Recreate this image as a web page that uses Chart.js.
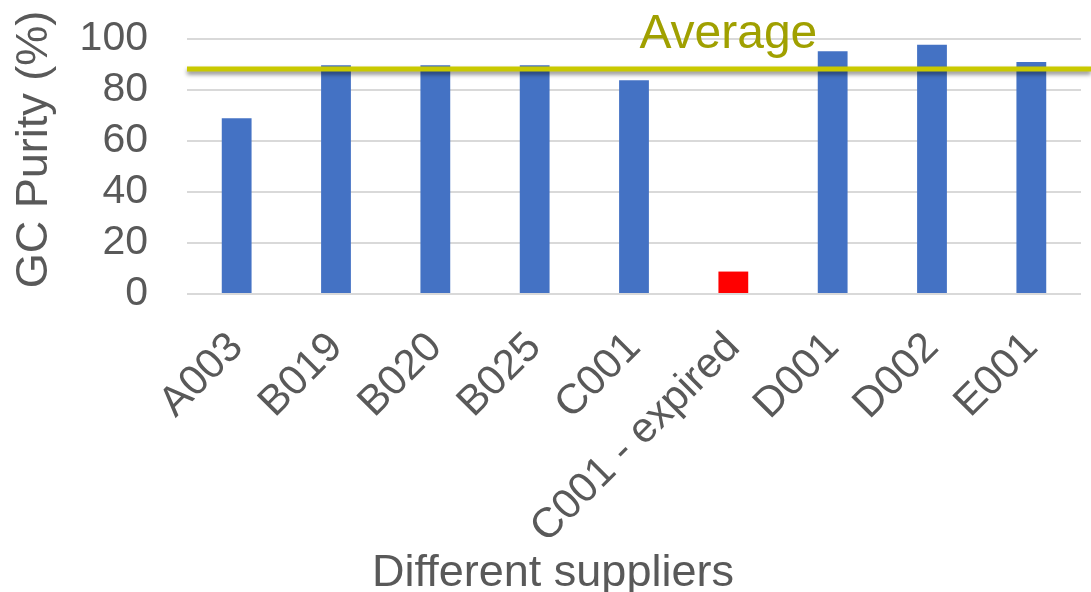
<!DOCTYPE html>
<html>
<head>
<meta charset="utf-8">
<title>GC Purity by supplier</title>
<script src="https://cdn.jsdelivr.net/npm/chart.js@4/dist/chart.umd.min.js"></script>
<style>
  html, body { margin: 0; padding: 0; background: #ffffff; }
  #wrap { width: 1091px; height: 592px; }
</style>
</head>
<body>
<div id="wrap"><canvas id="chart" width="1091" height="592"></canvas></div>
<script>
// Supplier samples and their measured GC purity (%)
const suppliers = ['A003', 'B019', 'B020', 'B025', 'C001', 'C001 - expired', 'D001', 'D002', 'E001'];
const purity = [68.9, 89.7, 89.7, 89.7, 83.8, 8.8, 95.2, 97.7, 91.0];
const yTicks = [0, 20, 40, 60, 80, 100];

// Average over the in-date samples (the expired lot is left out)
const inDate = purity.filter((v, i) => !suppliers[i].includes('expired'));
const averagePurity = inDate.reduce((a, b) => a + b, 0) / inDate.length;

const FONT = "'Liberation Sans', Arial, sans-serif";
const TEXT = '#595959';

// Average line (with a soft drop shadow) and its label, plus the value-axis title
const averageLine = {
  id: 'averageLine',
  afterDatasetsDraw(chart) {
    const { ctx, chartArea, scales } = chart;
    const y = scales.y.getPixelForValue(averagePurity);
    ctx.save();
    ctx.shadowColor = 'rgba(0,0,0,0.45)';
    ctx.shadowBlur = 4;
    ctx.shadowOffsetY = 3;
    ctx.strokeStyle = '#C9C900';
    ctx.lineWidth = 5;
    ctx.beginPath();
    ctx.moveTo(chartArea.left, y);
    ctx.lineTo(chart.width, y);
    ctx.stroke();
    ctx.restore();

    ctx.save();
    ctx.font = '48px ' + FONT;
    ctx.fillStyle = '#A0A000';
    ctx.textAlign = 'center';
    ctx.textBaseline = 'alphabetic';
    ctx.fillText('Average', scales.x.getPixelForValue(5) - 5, y - 21);
    ctx.restore();

    // y-axis title, rotated, sitting a little above the middle of the plot
    ctx.save();
    ctx.font = '45px ' + FONT;
    ctx.fillStyle = TEXT;
    ctx.textAlign = 'center';
    ctx.textBaseline = 'middle';
    ctx.translate(35, (chartArea.top + chartArea.bottom) / 2 - 17);
    ctx.rotate(-Math.PI / 2);
    ctx.fillText('GC Purity (%)', 0, 0);
    ctx.restore();
  }
};

new Chart(document.getElementById('chart'), {
  type: 'bar',
  data: {
    labels: suppliers,
    datasets: [{
      data: purity,
      backgroundColor: ctx => suppliers[ctx.dataIndex].includes('expired') ? '#FF0000' : '#4472C4',
      borderWidth: 0,
      barPercentage: 0.3,
      categoryPercentage: 1.0
    }]
  },
  options: {
    responsive: false,
    devicePixelRatio: 1,
    animation: false,
    layout: { padding: { left: 25, right: 10, top: 39, bottom: 0 } },
    plugins: {
      legend: { display: false },
      tooltip: { enabled: false },
      title: {
        display: true,
        text: 'Different suppliers',
        position: 'bottom',
        align: 'center',
        color: TEXT,
        font: { family: FONT, size: 45, weight: 'normal', lineHeight: 1.0 },
        padding: { top: 4, bottom: -4 }
      }
    },
    scales: {
      x: {
        grid: { display: false },
        border: { display: false },
        ticks: {
          color: TEXT,
          font: { family: FONT, size: 42 },
          autoSkip: false,
          maxRotation: 45,
          minRotation: 45,
          padding: 21
        },
        afterFit(scale) {
          scale.height = 253;
          scale.paddingLeft = 0;
          scale.paddingRight = 0;
        }
      },
      y: {
        min: 0,
        max: 100,
        afterBuildTicks(scale) { scale.ticks = yTicks.map(v => ({ value: v })); },
        grid: { color: '#D9D9D9', lineWidth: 2, drawTicks: false },
        border: { display: false },
        ticks: {
          color: TEXT,
          font: { family: FONT, size: 41 },
          padding: 39,
          autoSkip: false
        },
        afterFit(scale) {
          scale.width = 162;
          scale.paddingTop = 0;
          scale.paddingBottom = 0;
        }
      }
    }
  },
  plugins: [averageLine]
});
</script>
</body>
</html>
